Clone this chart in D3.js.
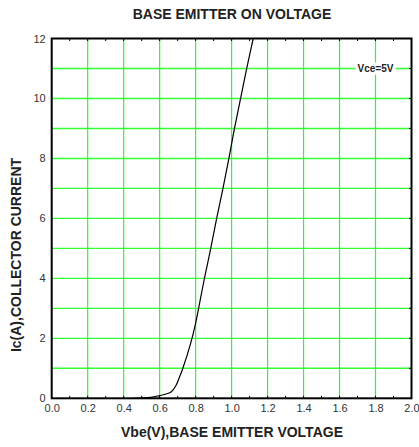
<!DOCTYPE html>
<html><head><meta charset="utf-8">
<script src="https://cdn.jsdelivr.net/npm/d3@7"></script>
<style>body{margin:0;background:#fff}svg{display:block}</style>
</head><body>
<script>
const vbe = [0.45, 0.55, 0.60, 0.64, 0.665, 0.69, 0.71, 0.73, 0.77, 0.80, 0.815, 0.849, 0.884, 0.917, 0.952, 0.985, 1.016, 1.050, 1.084, 1.12];
const ic  = [0.0,  0.03, 0.09, 0.15, 0.22,  0.42, 0.70, 1.02, 1.78, 2.5,  2.95,  4.0,   5.0,   6.0,   7.0,   8.0,   9.0,   10.0,  11.0,  12.0];
const xTicks = [0, 0.2, 0.4, 0.6, 0.8, 1.0, 1.2, 1.4, 1.6, 1.8, 2.0];
const yTicks = [0, 2, 4, 6, 8, 10, 12];
const yGrid = [1,2,3,4,5,6,7,8,9,10,11];
const title = "BASE EMITTER ON VOLTAGE";
const xLabel = "Vbe(V),BASE EMITTER VOLTAGE";
const yLabel = "Ic(A),COLLECTOR CURRENT";
const note = "Vce=5V";

const W = 419, H = 447;
const L = 51.7, R = 411.5, T = 38.5, B = 398.3;
const svg = d3.select("body").append("svg").attr("width", W).attr("height", H)
  .style("font-family", "'Liberation Sans', Arial, sans-serif");
const x = d3.scaleLinear().domain([0, 2]).range([L, R]);
const y = d3.scaleLinear().domain([0, 12]).range([B, T]);

// grid
svg.append("g").selectAll("line").data(xTicks.slice(1, -1)).join("line")
  .attr("x1", d => x(d)).attr("x2", d => x(d)).attr("y1", T).attr("y2", B)
  .attr("stroke", "#22ff22").attr("stroke-width", 1.2);
svg.append("g").selectAll("line").data(yGrid).join("line")
  .attr("x1", L).attr("x2", R).attr("y1", d => y(d)).attr("y2", d => y(d))
  .attr("stroke", "#33ff33").attr("stroke-width", 1.4);

// minor ticks
const minor = d3.range(1, 20).map(i => i / 10);
svg.append("g").selectAll("line").data(minor).join("line")
  .attr("x1", d => x(d)).attr("x2", d => x(d)).attr("y1", T).attr("y2", T + 2.5)
  .attr("stroke", "#000").attr("stroke-width", 1);
svg.append("g").selectAll("line").data(minor).join("line")
  .attr("x1", d => x(d)).attr("x2", d => x(d)).attr("y1", B).attr("y2", B - 2.5)
  .attr("stroke", "#000").attr("stroke-width", 1);
svg.append("g").selectAll("line").data(yGrid).join("line")
  .attr("x1", R).attr("x2", R - 2.5).attr("y1", d => y(d)).attr("y2", d => y(d))
  .attr("stroke", "#000").attr("stroke-width", 1);

// curve
const pts = vbe.map((v, i) => [v, ic[i]]);
svg.append("path").datum(pts)
  .attr("d", d3.line().x(d => x(d[0])).y(d => y(d[1])).curve(d3.curveCatmullRom.alpha(0.5)))
  .attr("fill", "none").attr("stroke", "#000").attr("stroke-width", 1.2);

// frame
svg.append("rect").attr("x", L).attr("y", T).attr("width", R - L).attr("height", B - T)
  .attr("fill", "none").attr("stroke", "#000").attr("stroke-width", 2);

// axes labels
const xa = svg.append("g").attr("transform", `translate(0,${B + 6})`)
  .call(d3.axisBottom(x).tickValues(xTicks).tickFormat(d3.format(".1f")).tickSize(0).tickPadding(0));
xa.select(".domain").remove();
xa.selectAll("text").attr("font-size", 11).attr("fill", "#333").attr("font-family", "'Liberation Sans', Arial, sans-serif");
const ya = svg.append("g").attr("transform", `translate(${L - 6},0)`)
  .call(d3.axisLeft(y).tickValues(yTicks).tickFormat(d3.format("d")).tickSize(0).tickPadding(0));
ya.select(".domain").remove();
ya.selectAll("text").attr("font-size", 11).attr("fill", "#333").attr("font-family", "'Liberation Sans', Arial, sans-serif");

// note
const nx = x(1.8), ny = y(11);
svg.append("rect").attr("x", nx - 20).attr("y", ny - 6).attr("width", 40).attr("height", 12).attr("fill", "#fff");
svg.append("text").attr("x", nx).attr("y", ny + 3.5).attr("text-anchor", "middle")
  .attr("font-size", 10).attr("font-weight", "bold").attr("fill", "#222").text(note);

// titles
svg.append("text").attr("x", 232).attr("y", 18.5).attr("text-anchor", "middle")
  .attr("font-size", 14).attr("font-weight", "bold").attr("fill", "#222").text(title);
svg.append("text").attr("x", 232).attr("y", 437).attr("text-anchor", "middle")
  .attr("font-size", 14).attr("font-weight", "bold").attr("fill", "#222").text(xLabel);
svg.append("text").attr("transform", `translate(21,255) rotate(-90)`).attr("text-anchor", "middle")
  .attr("font-size", 14).attr("font-weight", "bold").attr("fill", "#222").text(yLabel);
</script>
</body></html>
